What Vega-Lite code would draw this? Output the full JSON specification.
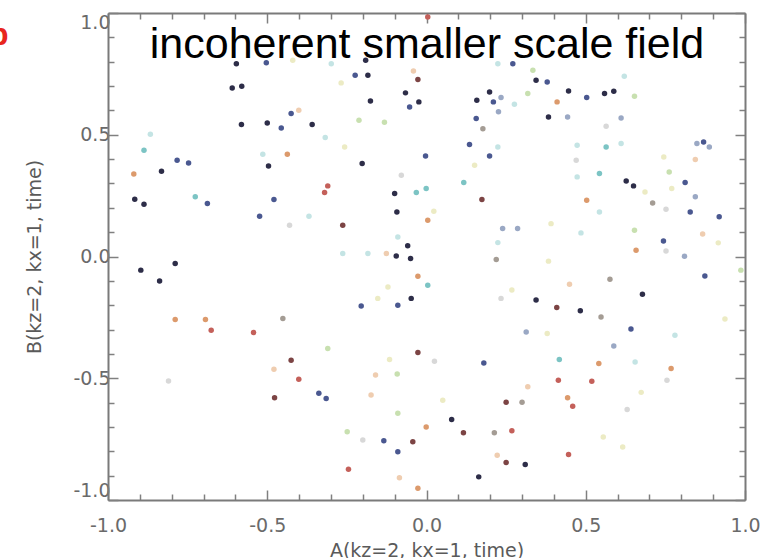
{
  "$schema": "https://vega.github.io/schema/vega-lite/v6.json",
  "width": 637,
  "height": 487,
  "autosize": "none",
  "padding": {"left": 108, "top": 13, "right": 21, "bottom": 58},
  "background": "white",
  "config": {"view": {"stroke": null}},
  "datasets": {
    "pts": [
      {"A": -0.597, "B": 0.792, "c": "k"}, {"A": -0.503, "B": 0.796, "c": "b"}, {"A": -0.610, "B": 0.692, "c": "k"}, {"A": -0.580, "B": 0.699, "c": "k"},
      {"A": -0.581, "B": 0.542, "c": "k"}, {"A": -0.500, "B": 0.548, "c": "k"}, {"A": -0.867, "B": 0.502, "c": "lc"}, {"A": -0.887, "B": 0.436, "c": "c"},
      {"A": -0.514, "B": 0.420, "c": "lc"}, {"A": -0.783, "B": 0.395, "c": "b"}, {"A": -0.747, "B": 0.384, "c": "b"}, {"A": -0.832, "B": 0.350, "c": "k"},
      {"A": -0.919, "B": 0.339, "c": "o"}, {"A": -0.496, "B": 0.372, "c": "k"}, {"A": -0.916, "B": 0.235, "c": "k"}, {"A": -0.887, "B": 0.215, "c": "k"},
      {"A": -0.726, "B": 0.245, "c": "c"}, {"A": -0.688, "B": 0.218, "c": "b"}, {"A": -0.524, "B": 0.165, "c": "b"},
      {"A": -0.191, "B": 0.806, "c": "k"}, {"A": -0.041, "B": 0.762, "c": "lo"}, {"A": -0.299, "B": 0.792, "c": "lc"}, {"A": -0.224, "B": 0.744, "c": "b"},
      {"A": -0.184, "B": 0.744, "c": "k"}, {"A": -0.268, "B": 0.713, "c": "y"}, {"A": -0.027, "B": 0.727, "c": "dr"}, {"A": -0.066, "B": 0.672, "c": "k"},
      {"A": -0.024, "B": 0.635, "c": "k"}, {"A": -0.176, "B": 0.639, "c": "k"}, {"A": -0.053, "B": 0.614, "c": "b"}, {"A": -0.425, "B": 0.587, "c": "b"},
      {"A": -0.401, "B": 0.601, "c": "lo"}, {"A": -0.456, "B": 0.528, "c": "b"}, {"A": -0.359, "B": 0.542, "c": "k"}, {"A": -0.212, "B": 0.560, "c": "g"},
      {"A": -0.132, "B": 0.551, "c": "g"}, {"A": -0.318, "B": 0.489, "c": "lc"}, {"A": -0.437, "B": 0.420, "c": "o"}, {"A": -0.257, "B": 0.450, "c": "y"},
      {"A": -0.202, "B": 0.382, "c": "k"}, {"A": -0.003, "B": 0.413, "c": "b"}, {"A": -0.079, "B": 0.334, "c": "lg"}, {"A": -0.310, "B": 0.290, "c": "r"},
      {"A": -0.320, "B": 0.263, "c": "r"}, {"A": -0.100, "B": 0.259, "c": "k"}, {"A": -0.032, "B": 0.263, "c": "c"}, {"A": -0.001, "B": 0.279, "c": "c"},
      {"A": -0.479, "B": 0.234, "c": "b"}, {"A": -0.093, "B": 0.183, "c": "k"}, {"A": -0.369, "B": 0.165, "c": "lc"}, {"A": -0.430, "B": 0.128, "c": "lg"},
      {"A": -0.263, "B": 0.128, "c": "dr"}, {"A": 0.004, "B": 0.149, "c": "o"}, {"A": -0.059, "B": 0.044, "c": "k"}, {"A": -0.090, "B": 0.080, "c": "lc"},
      {"A": -0.095, "B": 0.002, "c": "k"}, {"A": -0.050, "B": -0.008, "c": "k"}, {"A": -0.184, "B": 0.012, "c": "lc"}, {"A": -0.263, "B": 0.012, "c": "lc"},
      {"A": -0.126, "B": 0.012, "c": "lo"}, {"A": -0.420, "B": 0.806, "c": "y"},
      {"A": 0.004, "B": 0.984, "c": "r"}, {"A": 0.271, "B": 0.792, "c": "b"}, {"A": 0.224, "B": 0.792, "c": "lc"}, {"A": 0.334, "B": 0.765, "c": "g"},
      {"A": 0.344, "B": 0.724, "c": "k"}, {"A": 0.379, "B": 0.717, "c": "b"}, {"A": 0.198, "B": 0.676, "c": "k"}, {"A": 0.158, "B": 0.642, "c": "k"},
      {"A": 0.210, "B": 0.635, "c": "b"}, {"A": 0.234, "B": 0.653, "c": "lb"}, {"A": 0.276, "B": 0.625, "c": "lc"}, {"A": 0.318, "B": 0.669, "c": "g"},
      {"A": 0.446, "B": 0.680, "c": "k"}, {"A": 0.410, "B": 0.635, "c": "o"}, {"A": 0.503, "B": 0.653, "c": "b"}, {"A": 0.156, "B": 0.567, "c": "b"},
      {"A": 0.226, "B": 0.594, "c": "lb"}, {"A": 0.177, "B": 0.525, "c": "gr"}, {"A": 0.383, "B": 0.573, "c": "k"}, {"A": 0.443, "B": 0.573, "c": "lb"},
      {"A": 0.135, "B": 0.460, "c": "b"}, {"A": 0.198, "B": 0.413, "c": "b"}, {"A": 0.224, "B": 0.450, "c": "lc"}, {"A": 0.473, "B": 0.457, "c": "lc"},
      {"A": 0.470, "B": 0.395, "c": "lg"}, {"A": 0.151, "B": 0.375, "c": "y"}, {"A": 0.473, "B": 0.327, "c": "lc"}, {"A": 0.117, "B": 0.304, "c": "c"},
      {"A": 0.174, "B": 0.234, "c": "dr"}, {"A": 0.503, "B": 0.231, "c": "o"}, {"A": 0.023, "B": 0.186, "c": "y"}, {"A": 0.239, "B": 0.115, "c": "lb"},
      {"A": 0.286, "B": 0.115, "c": "lb"}, {"A": 0.391, "B": 0.135, "c": "y"}, {"A": 0.485, "B": 0.097, "c": "lc"}, {"A": 0.224, "B": 0.057, "c": "lc"},
      {"A": 0.219, "B": -0.012, "c": "gr"},
      {"A": 0.621, "B": 0.740, "c": "lc"}, {"A": 0.559, "B": 0.669, "c": "k"}, {"A": 0.588, "B": 0.679, "c": "k"}, {"A": 0.653, "B": 0.658, "c": "g"},
      {"A": 0.611, "B": 0.569, "c": "lb"}, {"A": 0.564, "B": 0.535, "c": "lg"}, {"A": 0.870, "B": 0.470, "c": "b"}, {"A": 0.849, "B": 0.464, "c": "lb"},
      {"A": 0.888, "B": 0.450, "c": "lb"}, {"A": 0.564, "B": 0.450, "c": "c"}, {"A": 0.611, "B": 0.464, "c": "lc"}, {"A": 0.745, "B": 0.409, "c": "y"},
      {"A": 0.844, "B": 0.398, "c": "lo"}, {"A": 0.762, "B": 0.347, "c": "g"}, {"A": 0.543, "B": 0.341, "c": "c"}, {"A": 0.627, "B": 0.310, "c": "k"},
      {"A": 0.650, "B": 0.290, "c": "k"}, {"A": 0.812, "B": 0.304, "c": "b"}, {"A": 0.686, "B": 0.265, "c": "y"}, {"A": 0.770, "B": 0.279, "c": "y"},
      {"A": 0.844, "B": 0.245, "c": "lb"}, {"A": 0.710, "B": 0.220, "c": "gr"}, {"A": 0.752, "B": 0.194, "c": "lg"}, {"A": 0.543, "B": 0.183, "c": "lc"},
      {"A": 0.828, "B": 0.183, "c": "b"}, {"A": 0.919, "B": 0.163, "c": "b"}, {"A": 0.653, "B": 0.108, "c": "g"}, {"A": 0.867, "B": 0.092, "c": "lo"},
      {"A": 0.916, "B": 0.056, "c": "y"}, {"A": 0.744, "B": 0.064, "c": "b"}, {"A": 0.752, "B": 0.023, "c": "lg"}, {"A": 0.658, "B": 0.026, "c": "o"},
      {"A": 0.810, "B": 0.001, "c": "lb"},
      {"A": -0.897, "B": -0.056, "c": "k"}, {"A": -0.789, "B": -0.029, "c": "k"}, {"A": -0.838, "B": -0.101, "c": "k"}, {"A": -0.789, "B": -0.259, "c": "o"},
      {"A": -0.694, "B": -0.259, "c": "o"}, {"A": -0.676, "B": -0.303, "c": "r"}, {"A": -0.543, "B": -0.312, "c": "r"}, {"A": -0.810, "B": -0.511, "c": "lg"},
      {"A": -0.027, "B": -0.081, "c": "o"}, {"A": -0.121, "B": -0.125, "c": "y"}, {"A": 0.004, "B": -0.118, "c": "c"}, {"A": -0.205, "B": -0.203, "c": "b"},
      {"A": -0.090, "B": -0.200, "c": "b"}, {"A": -0.048, "B": -0.172, "c": "k"}, {"A": -0.153, "B": -0.172, "c": "y"}, {"A": -0.451, "B": -0.255, "c": "gr"},
      {"A": -0.310, "B": -0.378, "c": "g"}, {"A": -0.027, "B": -0.394, "c": "dr"}, {"A": -0.425, "B": -0.426, "c": "dr"}, {"A": -0.479, "B": -0.463, "c": "lo"},
      {"A": -0.116, "B": -0.423, "c": "y"}, {"A": -0.401, "B": -0.504, "c": "r"}, {"A": -0.160, "B": -0.487, "c": "lo"}, {"A": -0.092, "B": -0.483, "c": "g"},
      {"A": -0.477, "B": -0.580, "c": "dr"}, {"A": -0.174, "B": -0.569, "c": "lo"}, {"A": -0.338, "B": -0.562, "c": "b"}, {"A": -0.315, "B": -0.583, "c": "b"},
      {"A": -0.090, "B": -0.644, "c": "g"}, {"A": -0.001, "B": -0.700, "c": "o"}, {"A": -0.249, "B": -0.720, "c": "g"}, {"A": -0.200, "B": -0.754, "c": "lg"},
      {"A": -0.134, "B": -0.757, "c": "b"}, {"A": -0.043, "B": -0.761, "c": "dr"}, {"A": -0.090, "B": -0.802, "c": "b"}, {"A": -0.245, "B": -0.874, "c": "r"},
      {"A": -0.085, "B": -0.909, "c": "lo"}, {"A": -0.027, "B": -0.952, "c": "o"},
      {"A": 0.383, "B": -0.019, "c": "y"}, {"A": 0.449, "B": -0.114, "c": "lo"}, {"A": 0.268, "B": -0.138, "c": "y"}, {"A": 0.234, "B": -0.172, "c": "lg"},
      {"A": 0.344, "B": -0.179, "c": "k"}, {"A": 0.409, "B": -0.209, "c": "dr"}, {"A": 0.483, "B": -0.223, "c": "k"}, {"A": 0.313, "B": -0.310, "c": "lb"},
      {"A": 0.379, "B": -0.316, "c": "y"}, {"A": 0.025, "B": -0.430, "c": "lg"}, {"A": 0.180, "B": -0.437, "c": "b"}, {"A": 0.417, "B": -0.423, "c": "c"},
      {"A": 0.414, "B": -0.508, "c": "r"}, {"A": 0.318, "B": -0.535, "c": "lo"}, {"A": 0.051, "B": -0.590, "c": "y"}, {"A": 0.250, "B": -0.599, "c": "dr"},
      {"A": 0.300, "B": -0.599, "c": "gr"}, {"A": 0.443, "B": -0.580, "c": "o"}, {"A": 0.459, "B": -0.615, "c": "r"}, {"A": 0.079, "B": -0.669, "c": "k"},
      {"A": 0.116, "B": -0.724, "c": "dr"}, {"A": 0.213, "B": -0.724, "c": "gr"}, {"A": 0.268, "B": -0.716, "c": "r"}, {"A": 0.446, "B": -0.813, "c": "r"},
      {"A": 0.250, "B": -0.846, "c": "dr"}, {"A": 0.310, "B": -0.854, "c": "k"}, {"A": 0.164, "B": -0.905, "c": "k"}, {"A": 0.222, "B": -0.816, "c": "lo"},
      {"A": 0.874, "B": -0.080, "c": "b"}, {"A": 0.576, "B": -0.093, "c": "gr"}, {"A": 0.678, "B": -0.155, "c": "k"}, {"A": 0.548, "B": -0.248, "c": "gr"},
      {"A": 0.937, "B": -0.257, "c": "y"}, {"A": 0.642, "B": -0.298, "c": "b"}, {"A": 0.780, "B": -0.323, "c": "lc"}, {"A": 0.588, "B": -0.368, "c": "lb"},
      {"A": 0.655, "B": -0.433, "c": "lc"}, {"A": 0.541, "B": -0.439, "c": "o"}, {"A": 0.768, "B": -0.460, "c": "o"}, {"A": 0.519, "B": -0.512, "c": "r"},
      {"A": 0.755, "B": -0.508, "c": "lg"}, {"A": 0.674, "B": -0.558, "c": "y"}, {"A": 0.630, "B": -0.628, "c": "lg"}, {"A": 0.555, "B": -0.741, "c": "y"},
      {"A": 0.616, "B": -0.782, "c": "y"}, {"A": 0.987, "B": -0.056, "c": "g"}
    ],
    "lab": [{"A": -1.312, "B": 0.87, "label": "b"}]
  },
  "layer": [
    {
      "data": {"name": "pts"},
      "mark": {"type": "circle", "size": 30, "opacity": 1},
      "encoding": {
        "x": {"field": "A", "type": "quantitative", "scale": {"domain": [-1, 1], "nice": false, "zero": false},
          "axis": {"orient": "bottom", "title": "A(kz=2, kx=1, time)", "grid": false,
            "values": [-1, -0.9, -0.8, -0.7, -0.6, -0.5, -0.4, -0.3, -0.2, -0.1, 0, 0.1, 0.2, 0.3, 0.4, 0.5, 0.6, 0.7, 0.8, 0.9, 1],
            "labelExpr": "abs(datum.value*2 - round(datum.value*2)) < 0.001 ? replace(format(datum.value, '.1f'), '\u2212', '-') : ''",
            "labelFlush": false, "labelOverlap": false, "labelFont": "DejaVu Sans", "labelFontSize": 19, "labelColor": "#6a6a6a", "labelPadding": 26,
            "tickSize": {"condition": {"test": "abs(datum.value*2 - round(datum.value*2)) < 0.001", "value": -10}, "value": -6},
            "tickColor": "#808080", "tickWidth": 1.5, "domainColor": "#7a7a7a", "domainWidth": 2,
            "titleFont": "DejaVu Sans", "titleFontSize": 19, "titleFontWeight": "normal", "titleColor": "#5a5a5a", "titlePadding": 2}},
        "y": {"field": "B", "type": "quantitative", "scale": {"domain": [-1, 1], "nice": false, "zero": false},
          "axis": {"orient": "left", "title": "B(kz=2, kx=1, time)", "grid": false,
            "values": [-1, -0.9, -0.8, -0.7, -0.6, -0.5, -0.4, -0.3, -0.2, -0.1, 0, 0.1, 0.2, 0.3, 0.4, 0.5, 0.6, 0.7, 0.8, 0.9, 1],
            "labelExpr": "abs(datum.value*2 - round(datum.value*2)) < 0.001 ? replace(format(datum.value, '.1f'), '\u2212', '-') : ''",
            "labelFlush": true, "labelOverlap": false, "labelFont": "DejaVu Sans", "labelFontSize": 19, "labelColor": "#6a6a6a", "labelPadding": 8,
            "tickSize": {"condition": {"test": "abs(datum.value*2 - round(datum.value*2)) < 0.001", "value": -10}, "value": -6},
            "tickColor": "#808080", "tickWidth": 1.5, "domainColor": "#7a7a7a", "domainWidth": 2,
            "titleFont": "DejaVu Sans", "titleFontSize": 19, "titleFontWeight": "normal", "titleColor": "#5a5a5a", "titlePadding": 28}},
        "color": {"field": "c", "type": "nominal", "legend": null,
          "scale": {"domain": ["k", "b", "lb", "c", "lc", "g", "y", "lo", "o", "r", "dr", "gr", "lg"],
            "range": ["#2d2d48", "#4a5890", "#9aa8c4", "#7cc4c4", "#c4e4e4", "#c8e0b0", "#ecebc4", "#efcdb0", "#dc9a6c", "#c4605a", "#7c4444", "#a49c94", "#d8d8d8"]}}
      }
    },
    {
      "data": {"name": "lab"},
      "mark": {"type": "text", "font": "Liberation Sans", "fontWeight": "bold", "fontSize": 32, "color": "#e8261e", "align": "right", "baseline": "alphabetic"},
      "encoding": {
        "text": {"field": "label"},
        "x": {"field": "A", "type": "quantitative", "scale": {"domain": [-1, 1], "nice": false, "zero": false},
          "axis": {"orient": "top", "title": "incoherent smaller scale field", "labels": false, "grid": false,
            "titleFont": "Liberation Sans", "titleFontSize": 43, "titleFontWeight": "normal", "titleColor": "#000000",
            "titlePadding": -45, "titleBaseline": "alphabetic",
            "values": [-1, -0.9, -0.8, -0.7, -0.6, -0.5, -0.4, -0.3, -0.2, -0.1, 0, 0.1, 0.2, 0.3, 0.4, 0.5, 0.6, 0.7, 0.8, 0.9, 1],
            "tickSize": {"condition": {"test": "abs(datum.value*2 - round(datum.value*2)) < 0.001", "value": -10}, "value": -6},
            "tickColor": "#808080", "tickWidth": 1.5, "domainColor": "#7a7a7a", "domainWidth": 2}},
        "y": {"field": "B", "type": "quantitative", "scale": {"domain": [-1, 1], "nice": false, "zero": false},
          "axis": {"orient": "right", "title": null, "labels": false, "grid": false,
            "values": [-1, -0.9, -0.8, -0.7, -0.6, -0.5, -0.4, -0.3, -0.2, -0.1, 0, 0.1, 0.2, 0.3, 0.4, 0.5, 0.6, 0.7, 0.8, 0.9, 1],
            "tickSize": {"condition": {"test": "abs(datum.value*2 - round(datum.value*2)) < 0.001", "value": -10}, "value": -6},
            "tickColor": "#808080", "tickWidth": 1.5, "domainColor": "#7a7a7a", "domainWidth": 2}}
      }
    }
  ],
  "resolve": {"axis": {"x": "independent", "y": "independent"}}
}
